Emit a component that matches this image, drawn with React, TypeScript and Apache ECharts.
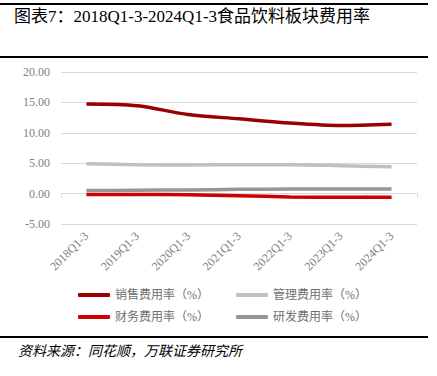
import React, { useEffect, useRef } from "react";
import * as echarts from "echarts";

const categories = ["2018Q1-3", "2019Q1-3", "2020Q1-3", "2021Q1-3", "2022Q1-3", "2023Q1-3", "2024Q1-3"];
const salesRate = [14.75, 14.45, 13.0, 12.3, 11.6, 11.2, 11.4];
const adminRate = [4.9, 4.75, 4.7, 4.75, 4.75, 4.6, 4.4];
const financeRate = [-0.15, -0.15, -0.2, -0.35, -0.55, -0.6, -0.6];
const rdRate = [0.5, 0.55, 0.6, 0.7, 0.75, 0.75, 0.75];
const seriesNames = ["销售费用率（%）", "管理费用率（%）", "财务费用率（%）", "研发费用率（%）"];
const seriesColors = ["#990000", "#c0c0c0", "#cc0000", "#969696"];

const serif = "'Liberation Serif', 'Times New Roman', 'Noto Sans CJK SC', serif";

export default function App() {
  const ref = useRef<HTMLDivElement>(null);
  useEffect(() => {
    document.body.style.margin = "0";
    const chart = echarts.init(ref.current!, null, { renderer: "svg" });
    const data = [salesRate, adminRate, financeRate, rdRate];
    const legendText = { fontFamily: serif, fontSize: 12, color: "#6f6f6f" };
    chart.setOption({
      animation: false,
      backgroundColor: "#ffffff",
      grid: { left: 61, right: 20, top: 72, bottom: 152 },
      legend: [
        {
          data: [seriesNames[0], seriesNames[1]],
          left: 73,
          top: 284,
          itemWidth: 32,
          itemHeight: 4,
          itemGap: 27,
          icon: "roundRect",
          textStyle: legendText,
        },
        {
          data: [seriesNames[2], seriesNames[3]],
          left: 73,
          top: 306,
          itemWidth: 32,
          itemHeight: 4,
          itemGap: 27,
          icon: "roundRect",
          textStyle: legendText,
        },
      ],
      xAxis: [
        {
          type: "category",
          data: categories,
          position: "bottom",
          axisLine: { show: false, onZero: false },
          axisTick: { show: false },
          axisLabel: {
            rotate: 45,
            interval: 0,
            color: "#7f7f7f",
            fontSize: 12,
            fontFamily: serif,
            margin: 10,
          },
        },
        {
          type: "category",
          data: categories,
          position: "bottom",
          axisLine: { show: true, onZero: true, lineStyle: { color: "#d9d9d9", width: 1 } },
          axisTick: { show: true, length: 4, lineStyle: { color: "#d9d9d9" } },
          axisLabel: { show: false },
        },
      ],
      yAxis: {
        type: "value",
        min: -5,
        max: 20,
        interval: 5,
        axisLine: { show: false },
        axisTick: { show: false },
        splitLine: { lineStyle: { color: "#d9d9d9" } },
        axisLabel: {
          formatter: (v: number) => v.toFixed(2),
          color: "#7f7f7f",
          fontSize: 12,
          fontFamily: serif,
          margin: 11,
        },
      },
      series: seriesNames.map((n, i) => ({
        name: n,
        type: "line",
        data: data[i],
        smooth: 0.3,
        symbol: "none",
        lineStyle: { color: seriesColors[i], width: 3.5 },
        itemStyle: { color: seriesColors[i] },
        z: i === 0 ? 5 : 3,
      })),
      graphic: [
        { type: "rect", shape: { x: 0, y: 3, width: 428, height: 2 }, style: { fill: "#000" } },
        { type: "rect", shape: { x: 0, y: 56, width: 428, height: 2 }, style: { fill: "#000" } },
        { type: "rect", shape: { x: 0, y: 336, width: 428, height: 2 }, style: { fill: "#000" } },
        {
          type: "text",
          x: 14,
          y: 8,
          style: {
            text: "图表7：2018Q1-3-2024Q1-3食品饮料板块费用率",
            fontFamily: serif,
            fontSize: 17,
            fontWeight: "normal",
            fill: "#000",
          },
        },
        {
          type: "text",
          x: 18,
          y: 344,
          style: {
            text: "资料来源：同花顺，万联证券研究所",
            fontFamily: serif,
            fontStyle: "italic",
            fontSize: 14,
            fill: "#000",
          },
        },
      ],
    });
    return () => chart.dispose();
  }, []);
  return <div ref={ref} style={{ width: 437, height: 376 }} />;
}
